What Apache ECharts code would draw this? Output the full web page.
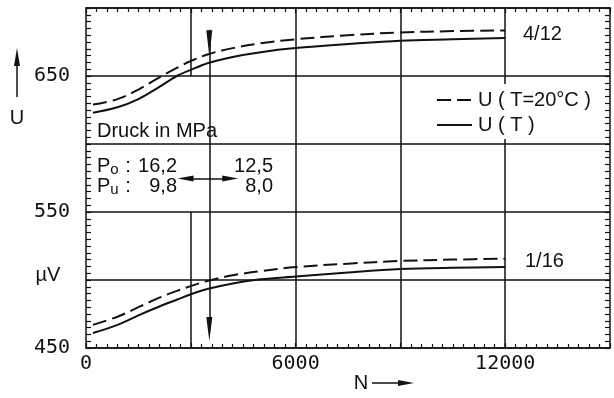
<!DOCTYPE html>
<html><head><meta charset="utf-8">
<script src="https://cdn.jsdelivr.net/npm/echarts@6/dist/echarts.min.js"></script>
<style>html,body{margin:0;padding:0;background:#fff}#c{width:614px;height:398px}</style>
</head><body><div id="c"></div>
<script>
// ---- data ----
const nValues  = [200, 900, 1500, 2100, 2600, 3000, 3500, 4200, 5000, 6000, 7500, 9000, 10500, 12000];
const upperRef = [629, 633, 640, 649, 656, 661, 666, 670.5, 674, 677, 680, 682, 683, 683.5];
const upperT   = [623, 627, 633, 642, 650, 654.5, 659.5, 664, 667.5, 670.5, 673.5, 676, 677, 678];
const lowerRef = [467, 473, 480, 487, 492, 495.5, 499.5, 503.5, 506.5, 509.5, 512, 514, 515, 515.7];
const lowerT   = [461, 467, 474, 480.5, 485.5, 489.5, 493.5, 497.5, 500.5, 502.5, 505.5, 508, 509, 509.5];
const xTickLabels = [0, 6000, 12000];
const yTickLabels = [450, 550, 650];
const seriesNames = ['U ( T=20°C )', 'U ( T )'];
const curveLabels = ['4/12', '1/16'];
const pressureUpper = ['16,2', '12,5'];
const pressureLower = ['9,8', '8,0'];
const markerN = 3530;

const K = '#111';
const monoFont = '"DejaVu Sans Mono"';
const sansFont = '"Liberation Sans"';
const pairs = (ys) => nValues.map((n, i) => [n, ys[i]]);

const chart = echarts.init(document.getElementById('c'), null, {renderer: 'canvas'});

const axisCommon = {
  type: 'value', axisLine: {show: true, onZero: false, lineStyle: {color: K, width: 1.5}},
  axisTick: {show: true, inside: true, length: 5, lineStyle: {color: K, width: 1.2}},
  minorTick: {show: true, splitNumber: 10, length: 5, lineStyle: {color: K, width: 1.2}},
  splitLine: {show: false}
};

const DASH = [14, 6];
const dashed = {color: K, width: 2, type: DASH};
const solid = {color: K, width: 2, type: 'solid'};
const lineSeries = (name, ys, style) => ({
  name, type: 'line', data: pairs(ys), smooth: 0.35,
  symbol: 'none', showSymbol: false, lineStyle: style, itemStyle: {color: K}, silent: true, z: 3
});

const gl = {color: K, width: 1.5, type: 'solid'};
const txt = (text, x, y, align, extra) => Object.assign({type: 'text', z: 10, silent: true,
  style: {text, x, y, font: '20px ' + sansFont, fill: K, textAlign: align || 'left', textVerticalAlign: 'middle'}}, extra || {});

const option = {
  animation: false,
  backgroundColor: '#fff',
  grid: {left: 86, top: 8, right: 4, bottom: 50, containLabel: false},
  xAxis: [
    Object.assign({}, axisCommon, {position: 'bottom', min: 0, max: 15000, interval: 3000,
      minorTick: Object.assign({}, axisCommon.minorTick, {length: 4}),
      axisLabel: {show: true, margin: 6, color: K, fontFamily: monoFont, fontSize: 20,
        formatter: v => xTickLabels.includes(v) ? String(v) : ''}}),
    Object.assign({}, axisCommon, {position: 'top', min: 0, max: 15000, interval: 3000,
      minorTick: Object.assign({}, axisCommon.minorTick, {length: 4}),
      axisLabel: {show: false}})
  ],
  yAxis: [
    Object.assign({}, axisCommon, {position: 'left', min: 450, max: 700, interval: 50,
      splitLine: {show: true, lineStyle: gl},
      axisLabel: {show: true, margin: 16, color: K, fontFamily: monoFont, fontSize: 20,
        formatter: v => yTickLabels.includes(v) ? String(v) : ''}}),
    Object.assign({}, axisCommon, {position: 'right', min: 450, max: 700, interval: 50,
      axisLabel: {show: false}})
  ],
  series: [
    lineSeries(seriesNames[0], upperRef, dashed),
    lineSeries(seriesNames[1], upperT, solid),
    lineSeries(seriesNames[0], lowerRef, dashed),
    lineSeries(seriesNames[1], lowerT, solid),
    {
      name: 'grid-lines', type: 'line', data: [], silent: true, z: 2,
      markLine: {
        silent: true, symbol: 'none', label: {show: false}, lineStyle: gl, animation: false,
        data: [
          {xAxis: 6000}, {xAxis: 9000}, {xAxis: 12000},
          [{coord: [3000, 650]}, {coord: [3000, 700]}],
          [{coord: [3000, 450]}, {coord: [3000, 550]}],
          [{coord: [markerN, 684], symbol: 'none'}, {coord: [markerN, 464], symbol: 'triangle', symbolSize: [6, 24]}],
          [{coord: [2850, 574.7], symbol: 'triangle', symbolSize: [6, 16]}, {coord: [4130, 574.7], symbol: 'triangle', symbolSize: [6, 16]}]
        ]
      },
      markPoint: {
        silent: true, label: {show: false},
        data: [{coord: [markerN, 674], symbol: 'triangle', symbolRotate: 180, symbolSize: [6, 26], itemStyle: {color: K}}]
      }
    }
  ],
  graphic: [
    // y-axis name with arrow
    {type: 'line', shape: {x1: 17, y1: 97, x2: 17, y2: 62}, style: {stroke: K, lineWidth: 1.5}},
    {type: 'polygon', shape: {points: [[14, 66], [20, 66], [17, 48]]}, style: {fill: K}},
    txt('U', 17, 118, 'center'),
    txt('µV', 48, 275, 'center'),
    // x-axis name with arrow
    txt('N', 361, 383, 'center'),
    {type: 'line', shape: {x1: 372, y1: 383, x2: 402, y2: 383}, style: {stroke: K, lineWidth: 1.5}},
    {type: 'polygon', shape: {points: [[398, 380], [398, 386], [414, 383]]}, style: {fill: K}},
    // legend (drawn)
    {type: 'rect', z: 9, silent: true, shape: {x: 433, y: 84, width: 160, height: 55}, style: {fill: '#fff'}},
    {type: 'line', z: 10, silent: true, shape: {x1: 437, y1: 100, x2: 472, y2: 100}, style: {stroke: K, lineWidth: 2, lineDash: DASH}},
    {type: 'line', z: 10, silent: true, shape: {x1: 437, y1: 125, x2: 472, y2: 125}, style: {stroke: K, lineWidth: 2}},
    txt(seriesNames[0], 478, 100, 'left'),
    txt(seriesNames[1], 478, 125, 'left'),
    // annotations in plot
    txt('Druck in MPa', 97, 131, 'left'),
    {type: 'text', z: 10, style: {text: '{p|P}{s|o}', x: 97, y: 166, fill: K, textAlign: 'left', textVerticalAlign: 'middle',
      rich: {p: {font: '20px ' + sansFont, fill: K}, s: {font: '15px ' + sansFont, fill: K, padding: [8, 0, 0, 0]}}}},
    {type: 'text', z: 10, style: {text: '{p|P}{s|u}', x: 97, y: 186, fill: K, textAlign: 'left', textVerticalAlign: 'middle',
      rich: {p: {font: '20px ' + sansFont, fill: K}, s: {font: '15px ' + sansFont, fill: K, padding: [8, 0, 0, 0]}}}},
    txt(':', 128, 166, 'center'),
    txt(':', 128, 186, 'center'),
    txt(pressureUpper[0], 177, 166, 'right'),
    txt(pressureLower[0], 177, 186, 'right'),
    txt(pressureUpper[1], 273, 166, 'right'),
    txt(pressureLower[1], 273, 186, 'right'),
    txt(curveLabels[0], 523, 34, 'left'),
    txt(curveLabels[1], 525, 261, 'left')
  ]
};
chart.setOption(option);
</script></body></html>
